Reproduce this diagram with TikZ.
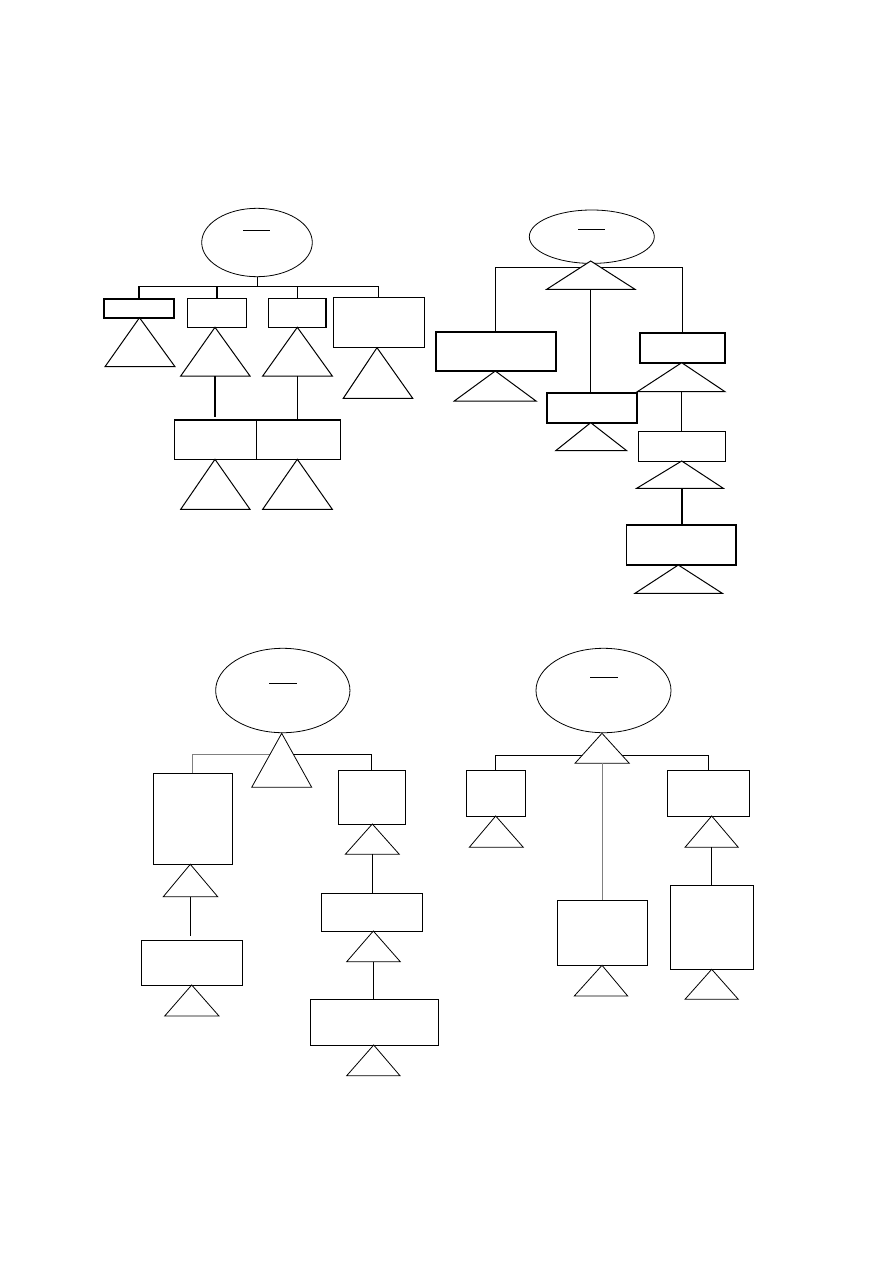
\documentclass[tikz,border=0pt]{standalone}
\usetikzlibrary{shapes.geometric,fit}
\tikzset{
  bx/.style={draw, fill=white, inner sep=0pt, outer sep=0pt, line width=1pt},
  bxthick/.style={bx, line width=1.9pt},
  bxthin/.style={bx, line width=0.8pt},
  ell/.style={draw, ellipse, inner sep=0pt, outer sep=0pt, line width=0.8pt},
  tri/.style={draw, fill=white, line width=1pt, line join=miter},
  trithin/.style={tri, line width=0.8pt},
  wire/.style={line width=1pt},
  wirethin/.style={line width=0.8pt},
  wirethick/.style={line width=2pt},
  bar/.style={line width=0.9pt},
}
% box: [style]{name}{x1}{y1}{x2}{y2}
\newcommand{\mkbox}[6][]{\node[bx,#1,fit={(#3,#4) (#5,#6)}] (#2) {};}
% triangle: [style]{name}{apex x}{apex y}{base y}{base x1}{base x2}
\newcommand{\mktri}[7][]{%
  \coordinate (#2-t) at (#3,#4);
  \coordinate (#2-b) at (#3,#5);
  \draw[tri,#1] (#2-t) -- (#7,#5) -- (#6,#5) -- cycle;}
\begin{document}
\begin{tikzpicture}[x=1pt,y=-1pt]
\useasboundingbox[fill=white] (0,0) rectangle (893,1263);

% ================= Panel 1 =================
\node[ell, minimum width=110.6pt, minimum height=68.4pt] (p1e) at (257,242.5) {};
\draw[bar] (243.3,230) -- (270,230);
\coordinate (p1bus) at (257,286);
\mkbox[bxthick]{p1b1}{104}{298.7}{174}{317.7}
\mkbox[line width=1.3pt]{p1b2}{187.3}{298.7}{246.7}{327.3}
\mkbox[line width=1.1pt]{p1b3}{268.3}{298.7}{326}{327.3}
\mkbox[line width=1.1pt]{p1b4}{333.3}{297.3}{424.3}{347.7}
\mkbox[line width=1.1pt]{p1b5}{174.3}{420}{256.7}{459.3}
\mkbox[line width=1.1pt]{p1b6}{256.7}{420}{340.7}{459.3}
\draw[wire] (p1e.south) -- (p1e.south |- p1bus);
\draw[wire] (p1b1.north |- p1bus) -- (p1b4.north |- p1bus);
\draw[wirethick] (p1b1.north) -- (p1b1.north |- p1bus);
\draw[wirethick] (p1b2.north) -- (p1b2.north |- p1bus);
\draw[wire] (p1b3.north) -- (p1b3.north |- p1bus);
\draw[wire] (p1b4.north) -- (p1b4.north |- p1bus);
\mktri{p1t1}{139.5}{317.7}{366.7}{105}{175}
\mktri{p1t2}{215}{327.3}{376}{180.7}{250}
\mktri{p1t3}{297.3}{327.3}{376}{262.7}{332.3}
\mktri{p1t4}{377}{347.7}{398.3}{343.3}{412.7}
\mktri{p1t5}{215}{459.3}{509.3}{180.7}{250}
\mktri{p1t6}{297.3}{459.3}{509.3}{262.7}{332.3}
\draw[wirethick] (p1t2-b) -- ([yshift=3pt]p1t2-b |- p1b5.north);
\draw[wire] (p1t3-b) -- (p1t3-b |- p1b6.north);

% ================= Panel 2 =================
\node[ell, minimum width=125pt, minimum height=53.4pt] (p2e) at (591.8,236.7) {};
\draw[bar] (578.3,229.3) -- (605,229.3);
\coordinate (p2bus) at (591,267.3);
\mkbox[bxthick]{p2bA}{435.7}{331.7}{556}{371}
\mkbox[bxthick]{p2bB}{547.3}{392.7}{637}{422.7}
\mkbox[bxthick]{p2bC}{640}{332.7}{724.7}{362.7}
\mkbox{p2bD}{638.3}{431}{725}{461}
\mkbox[line width=1.5pt]{p2bE}{626.7}{525}{736}{565}
\draw[wire] (p2bA.north) -- (p2bA.north |- p2bus) -- (p2bC.north |- p2bus) -- (p2bC.north);
\mktri{p2T}{590.7}{261}{289.3}{546.7}{635}
\draw[wire] (p2T-b) -- (p2T-b |- p2bB.north);
\mktri{p2tA}{495.3}{371}{401}{454.3}{536}
\mktri{p2tB}{590.7}{422.7}{450.7}{555.7}{626.7}
\mktri{p2tC}{681.7}{362.7}{391.7}{637.3}{725}
\draw[wire] (p2tC-b) -- (p2tC-b |- p2bD.north);
\mktri{p2tD}{681.7}{461}{488.3}{636.7}{723.3}
\draw[wirethick] (p2tD-b) -- (p2tD-b |- p2bE.north);
\mktri{p2tE}{678.3}{565}{593.3}{635}{722.3}

% ================= Panel 3 =================
\node[ell, minimum width=134.3pt, minimum height=84.4pt] (p3e) at (282.8,690.5) {};
\draw[bar] (269.3,683.3) -- (296.7,683.3);
\coordinate (p3bus) at (282,754);
\mkbox[bxthin]{p3bL1}{153.3}{773.3}{232.3}{864.3}
\mkbox[bxthin]{p3bL2}{141.3}{940.7}{242.3}{985}
\mkbox[bxthin]{p3bR1}{338.3}{770.3}{405.3}{824}
\mkbox[bxthin]{p3bR2}{321.3}{893.3}{422.3}{931}
\mkbox[bxthin]{p3bR3}{310.3}{999.3}{438.3}{1045}
\draw[wirethin, gray] (p3bL1.north) -- (p3bL1.north |- p3bus) -- (p3bus);
\draw[wirethin] (p3bus) -- (p3bR1.north |- p3bus) -- (p3bR1.north);
\mktri[trithin]{p3T}{281.7}{733.3}{787.3}{251.7}{311.7}
\mktri[trithin]{p3tL1}{190.3}{864.3}{896.7}{163.3}{217.7}
\draw[wirethin] (p3tL1-b) -- ([yshift=5pt]p3tL1-b |- p3bL2.north);
\mktri[trithin]{p3tL2}{191.7}{985}{1016}{164.7}{219}
\mktri[trithin]{p3tR1}{372.3}{824}{854.3}{345.3}{399.3}
\draw[wirethin] (p3tR1-b) -- (p3tR1-b |- p3bR2.north);
\mktri[trithin]{p3tR2}{373.3}{931}{961.7}{346.7}{400.3}
\draw[wirethin] (p3tR2-b) -- (p3tR2-b |- p3bR3.north);
\mktri[trithin]{p3tR3}{373.7}{1045}{1075.7}{346.7}{400}

% ================= Panel 4 =================
\node[ell, minimum width=135pt, minimum height=84.4pt] (p4e) at (603.5,690.5) {};
\draw[bar] (590,677.3) -- (617.7,677.3);
\coordinate (p4bus) at (602,755.3);
\mkbox[bxthin]{p4bL}{466.3}{770.3}{525.3}{816}
\mkbox[bxthin]{p4bM}{557.3}{900}{647.3}{965.3}
\mkbox[bxthin]{p4bR}{667.3}{770.3}{749.3}{816}
\mkbox[bxthin]{p4bR2}{670.7}{885.7}{753.3}{969.3}
\draw[wirethin] (p4bL.north) -- (p4bL.north |- p4bus) -- (p4bR.north |- p4bus) -- (p4bR.north);
\mktri[trithin]{p4T}{602}{733.3}{763.3}{575}{629.3}
\draw[wirethin, gray] (p4T-b) -- (p4T-b |- p4bM.north);
\mktri[trithin]{p4tL}{495.7}{816}{847.3}{469.3}{523.3}
\mktri[trithin]{p4tM}{602}{965.3}{996}{574.3}{627.7}
\mktri[trithin]{p4tR}{711.7}{816}{847.3}{685}{738.3}
\draw[wirethin] (p4tR-b) -- (p4tR-b |- p4bR2.north);
\mktri[trithin]{p4tR2}{711.7}{969.3}{999.3}{685}{738.3}
\end{tikzpicture}
\end{document}
